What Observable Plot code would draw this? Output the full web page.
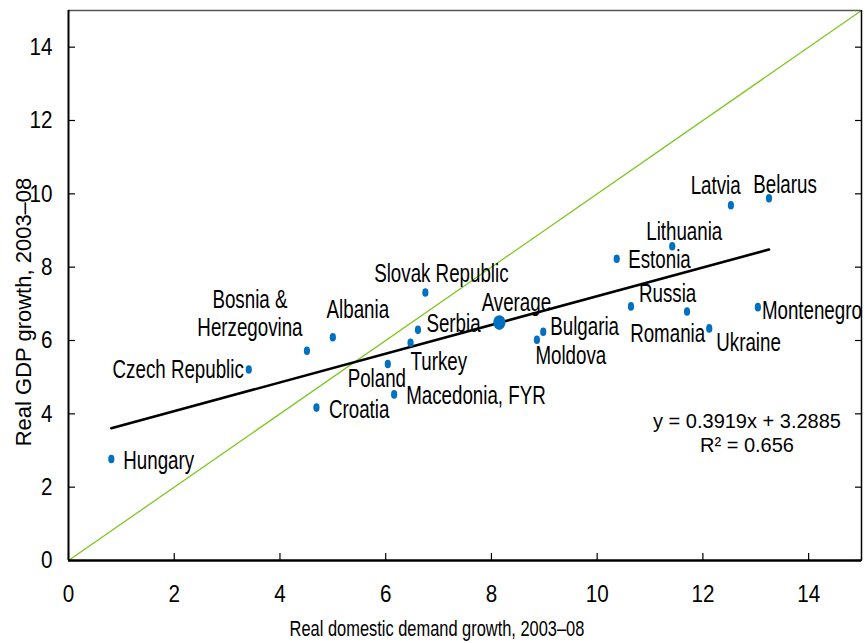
<!DOCTYPE html>
<html>
<head>
<meta charset="utf-8">
<script src="https://cdn.jsdelivr.net/npm/d3@7"></script>
<script src="https://cdn.jsdelivr.net/npm/@observablehq/plot@0.6"></script>
<style>
  html, body { margin: 0; padding: 0; background: #fff; }
  #chart { position: absolute; left: 0; top: 0; }
</style>
</head>
<body>
<div id="chart"></div>
<script>
// ---- data ----
const countries = ["Hungary", "Czech Republic", "Bosnia &\nHerzegovina", "Albania", "Croatia",
  "Slovak Republic", "Serbia", "Turkey", "Poland", "Macedonia, FYR", "Bulgaria", "Moldova",
  "Estonia", "Lithuania", "Latvia", "Belarus", "Russia", "Romania", "Ukraine", "Montenegro"];
const demandGrowth = [0.81, 3.41, 4.51, 5.00, 4.69, 6.75, 6.61, 6.47, 6.04, 6.16, 8.98, 8.86,
  10.37, 11.42, 12.53, 13.25, 10.64, 11.70, 12.12, 13.04];
const gdpGrowth = [2.77, 5.21, 5.72, 6.09, 4.17, 7.31, 6.29, 5.94, 5.36, 4.53, 6.24, 6.02,
  8.23, 8.57, 9.69, 9.88, 6.93, 6.79, 6.33, 6.91];
const averageName = "Average";
const averageDemand = 8.15;
const averageGdp = 6.49;
const trendSlope = 0.3919;
const trendIntercept = 3.2885;
const trendR2 = 0.656;
const axisDomain = [0, 15];
const xTicks = [0, 2, 4, 6, 8, 10, 12, 14];
const yTicks = [0, 2, 4, 6, 8, 10, 12, 14];
const xTitle = "Real domestic demand growth, 2003–08";
const yTitle = "Real GDP growth, 2003–08";

// ---- label layout: [textAnchor, dx, dy] in pixels ----
const labelLayout = {
  "Hungary": ["start", 12, 1],
  "Czech Republic": ["end", -5, -1],
  "Bosnia &\nHerzegovina": ["middle", -57, -38],
  "Albania": ["middle", 25, -28.5],
  "Croatia": ["start", 12.5, 1],
  "Slovak Republic": ["middle", 16, -20],
  "Serbia": ["start", 8.5, -7],
  "Turkey": ["start", 0, 18.5],
  "Poland": ["middle", -11, 14],
  "Macedonia, FYR": ["start", 12, 0],
  "Bulgaria": ["start", 7, -5.5],
  "Moldova": ["start", -1.5, 15],
  "Estonia": ["start", 11.5, 0],
  "Lithuania": ["middle", 12, -15.4],
  "Latvia": ["middle", -15.3, -20],
  "Belarus": ["middle", 16, -14],
  "Russia": ["start", 8, -13.4],
  "Romania": ["middle", -19.4, 21.5],
  "Ukraine": ["start", 7, 13],
  "Montenegro": ["start", 4, 2.5],
  "Average": ["middle", 17, -20.7]
};

const points = countries.map((name, i) => ({name, x: demandGrowth[i], y: gdpGrowth[i]}));
const average = [{name: averageName, x: averageDemand, y: averageGdp}];
const trendX = d3.extent(demandGrowth);
const trendLine = trendX.map(x => ({x, y: trendSlope * x + trendIntercept}));
const equation = `y = ${trendSlope}x + ${trendIntercept}\nR² = ${trendR2}`;

const blue = "#0070C0";
const ink = "#000";
const font = "'Liberation Sans', Arial, sans-serif";

const labelMarks = [...points, ...average].map(p => {
  const [anchor, dx, dy] = labelLayout[p.name];
  return Plot.text([p], {
    x: "x", y: "y", text: "name", textAnchor: anchor, dx, dy,
    lineAnchor: "middle", lineHeight: 1.15, fontSize: 25, fill: ink
  });
});

const svg = Plot.plot({
  width: 865,
  height: 643,
  marginLeft: 68,
  marginRight: 4,
  marginTop: 10,
  marginBottom: 83,
  style: {fontFamily: font, background: "#fff", overflow: "visible", color: ink},
  x: {domain: axisDomain, label: null},
  y: {domain: axisDomain, label: null},
  marks: [
    // 45-degree line
    Plot.line(axisDomain, {x: d => d, y: d => d, stroke: "#7DC71E", strokeWidth: 1.3}),
    // regression line
    Plot.line(trendLine, {x: "x", y: "y", stroke: "#000", strokeWidth: 2.6}),
    // points
    Plot.dot(points, {x: "x", y: "y", r: 4.3, fill: blue}),
    Plot.dot(average, {x: "x", y: "y", r: 7.4, fill: blue}),
    ...labelMarks,
    // axes ticks (inward)
    Plot.axisX(xTicks, {anchor: "bottom", tickSize: -7, tickFormat: () => "", label: null, strokeWidth: 1.2}),
    Plot.axisY(yTicks, {anchor: "left", tickSize: -7, tickFormat: () => "", label: null, strokeWidth: 1.2}),
    Plot.axisY(yTicks, {anchor: "right", tickSize: -7, tickFormat: () => "", label: null, strokeWidth: 1.2}),
    // axis labels
    Plot.axisX(xTicks, {anchor: "bottom", tickSize: 0, tickPadding: 24, fontSize: 24, label: null, fill: ink}),
    Plot.axisY(yTicks, {anchor: "left", tickSize: 0, tickPadding: 16, fontSize: 24, label: null, fill: ink}),
    // frame
    Plot.ruleY([axisDomain[1]], {stroke: "#555", strokeWidth: 1.5}),
    Plot.ruleX([axisDomain[1]], {stroke: "#000", strokeWidth: 1.5}),
    Plot.ruleX([axisDomain[0]], {stroke: "#000", strokeWidth: 2}),
    Plot.ruleY([axisDomain[0]], {stroke: "#000", strokeWidth: 2.6}),
    // equation
    Plot.text([equation], {text: d => d, frameAnchor: "bottom-right", textAnchor: "middle",
      dx: -114.5, dy: -128, fontSize: 20, lineHeight: 1.2, lineAnchor: "middle", fill: ink}),
    // axis titles
    Plot.text([xTitle], {text: d => d, frameAnchor: "bottom", textAnchor: "middle", dx: -28, dy: 68,
      fontSize: 22.5, lineAnchor: "middle", fill: ink}),
    Plot.text([yTitle], {text: d => d, frameAnchor: "left", textAnchor: "middle", rotate: -90,
      dx: -45, dy: 26.5, fontSize: 22, lineAnchor: "middle", fill: ink})
  ]
});

// horizontal condensing of narrow-font texts and slightly oval markers
function squeezeEl(el, s) {
  const tr = el.getAttribute("transform") || "";
  const m = tr.match(/^translate\([^)]*\)/);
  if (el.tagName.toLowerCase() === "circle") {
    const cx = +el.getAttribute("cx") || 0, cy = +el.getAttribute("cy") || 0;
    if (m) el.setAttribute("transform", m[0] + ` translate(${cx},${cy}) scale(${s},1) translate(${-cx},${-cy})` + tr.slice(m[0].length));
    else el.setAttribute("transform", `translate(${cx},${cy}) scale(${s},1) translate(${-cx},${-cy}) ` + tr);
  } else if (m) {
    el.setAttribute("transform", m[0] + ` scale(${s},1)` + tr.slice(m[0].length));
  } else {
    const x = +el.getAttribute("x") || 0, y = +el.getAttribute("y") || 0;
    el.removeAttribute("x"); el.removeAttribute("y");
    el.setAttribute("transform", `translate(${x},${y}) scale(${s},1) ` + tr);
  }
}
const labelNames = new Set([...countries, averageName].map(s => s.replace(/\n/g, "")));
svg.querySelectorAll("text").forEach(t => {
  const content = t.textContent.replace(/\n/g, "");
  if (labelNames.has(content)) squeezeEl(t, 0.75);
  else if (/^\d+$/.test(content.trim())) squeezeEl(t, 0.86);
  else if (content === xTitle) squeezeEl(t, 0.73);
});
svg.querySelectorAll("circle").forEach(c => {
  const r = +c.getAttribute("r") || 4.3;
  squeezeEl(c, r > 6 ? 0.82 : 0.72);
});

document.getElementById("chart").appendChild(svg);
</script>
</body>
</html>
